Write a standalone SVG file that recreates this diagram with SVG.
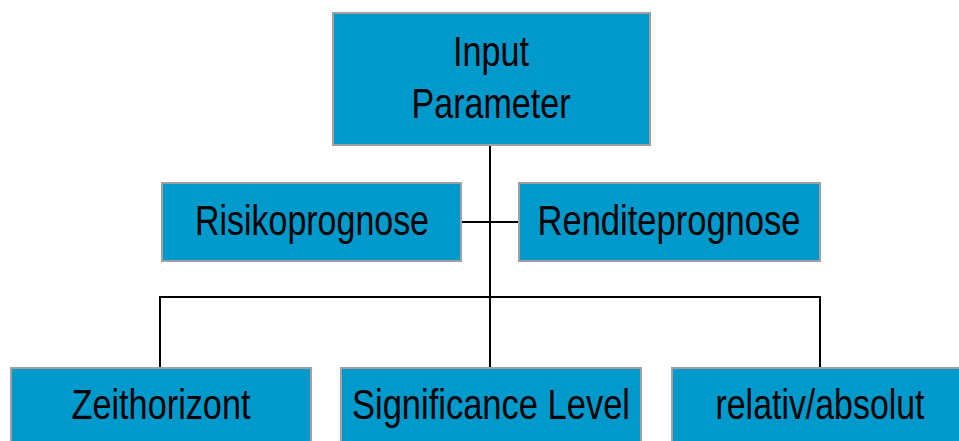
<svg xmlns="http://www.w3.org/2000/svg" width="959" height="441" viewBox="0 0 959 441">
  <style>
    .box { fill: #0099cc; stroke: #a0a0a0; stroke-width: 2; }
    .lbl { font-family: "Liberation Sans", Arial, sans-serif; font-size: 42px; fill: #000; text-anchor: middle; }
    .wire { fill: none; stroke: #000; stroke-width: 2; }
  </style>
  <rect width="959" height="441" fill="#fff"/>

  <g id="connectors">
    <path class="wire" d="M490,146 V367"/>
    <path class="wire" d="M462,222 H518"/>
    <path class="wire" d="M160,367 V297 H820 V367"/>
  </g>

  <g id="input-parameter">
    <rect class="box" x="333" y="13" width="317" height="132"/>
    <text class="lbl" x="491" y="66" textLength="76" lengthAdjust="spacingAndGlyphs">Input</text>
    <text class="lbl" x="491" y="118" textLength="159" lengthAdjust="spacingAndGlyphs">Parameter</text>
  </g>

  <g id="risikoprognose">
    <rect class="box" x="162" y="183" width="299" height="78"/>
    <text class="lbl" x="312" y="235" textLength="234" lengthAdjust="spacingAndGlyphs">Risikoprognose</text>
  </g>

  <g id="renditeprognose">
    <rect class="box" x="519" y="183" width="301" height="78"/>
    <text class="lbl" x="669" y="235" textLength="263" lengthAdjust="spacingAndGlyphs">Renditeprognose</text>
  </g>

  <g id="zeithorizont">
    <rect class="box" x="11" y="368" width="300" height="80"/>
    <text class="lbl" x="161" y="419" textLength="179" lengthAdjust="spacingAndGlyphs">Zeithorizont</text>
  </g>

  <g id="significance-level">
    <rect class="box" x="341" y="368" width="300" height="80"/>
    <text class="lbl" x="491" y="419" textLength="278" lengthAdjust="spacingAndGlyphs">Significance Level</text>
  </g>

  <g id="relativ-absolut">
    <rect class="box" x="672" y="368" width="300" height="80"/>
    <text class="lbl" x="820" y="419" textLength="209" lengthAdjust="spacingAndGlyphs">relativ/absolut</text>
  </g>
</svg>
